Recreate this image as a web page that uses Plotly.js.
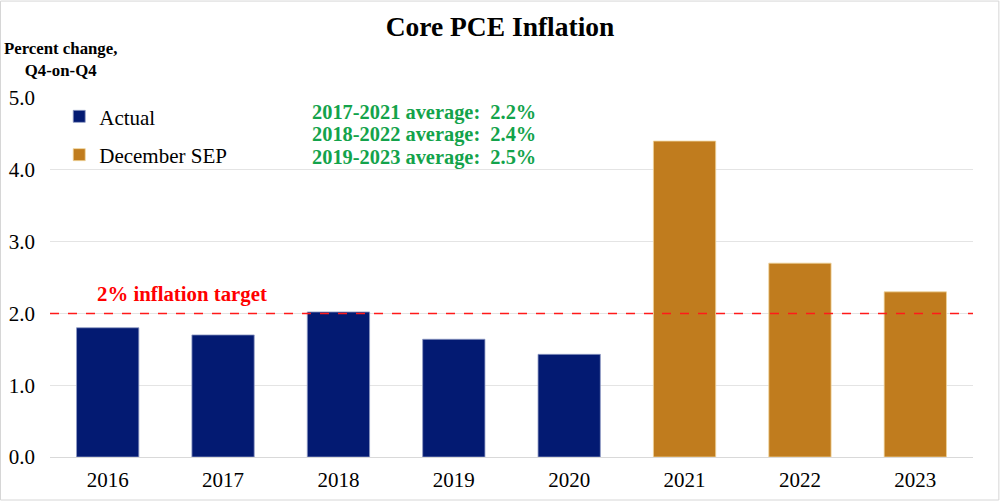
<!DOCTYPE html>
<html><head><meta charset="utf-8">
<script src="https://cdn.plot.ly/plotly-3.0.1.min.js"></script>
<style>html,body{margin:0;padding:0;background:#fff}#chart{width:1000px;height:503px}</style>
</head><body><div id="chart"></div>
<script>
const actualYears = ["2016","2017","2018","2019","2020"];
const actualValues = [1.8, 1.7, 2.02, 1.64, 1.43];
const sepYears = ["2021","2022","2023"];
const sepValues = [4.4, 2.7, 2.3];
const averageLines = ["2017-2021 average:  2.2%", "2018-2022 average:  2.4%", "2019-2023 average:  2.5%"];
const targetValue = 2.0;
const yTicks = [0,1,2,3,4,5];
const yTickText = ["0.0","1.0","2.0","3.0","4.0","5.0"];

const serif = "Liberation Serif, Times New Roman, serif";
const traces = [
  {type:"bar", name:"Actual", x:actualYears, y:actualValues, width:0.54,
   marker:{color:"#031a72", line:{color:"#8f9ac4", width:0.8}}, legendgroup:"a"},
  {type:"bar", name:"December SEP", x:sepYears, y:sepValues, width:0.54,
   marker:{color:"#c07c1e", line:{color:"#f0d49a", width:0.8}}, legendgroup:"b"}
];
const avgY = [0.961, 0.897, 0.833];
const annotations = [
  {xref:"paper", yref:"paper", x:-0.0515, y:1.106, xanchor:"left", yanchor:"middle", align:"center",
   text:"<b>Percent change,<br>Q4-on-Q4</b>", showarrow:false,
   font:{family:serif, size:16.8, color:"#000"}},
  {xref:"paper", yref:"y", x:0.049, y:targetValue, xanchor:"left", yanchor:"bottom", yshift:5,
   text:"<b>2% inflation target</b>", showarrow:false,
   font:{family:serif, size:20.8, color:"#ff0000"}}
];
averageLines.forEach((s,i)=>annotations.push({
  xref:"paper", yref:"paper", x:0.405, y:avgY[i], xanchor:"center", yanchor:"middle",
  text:"<b>"+s+"</b>", showarrow:false, font:{family:serif, size:20.4, color:"#13a34b"}}));

const layout = {
  width:1000, height:503,
  margin:{l:50, r:27, t:98, b:46},
  paper_bgcolor:"#fff", plot_bgcolor:"#fff",
  title:{text:"<b>Core PCE Inflation</b>", x:0.5, xanchor:"center", y:0.948, yanchor:"middle",
         font:{family:serif, size:27.5, color:"#000"}},
  barmode:"overlay",
  showlegend:true,
  legend:{x:0.01, y:1.005, xanchor:"left", yanchor:"top", font:{family:serif, size:21, color:"#000"},
          bgcolor:"rgba(0,0,0,0)", traceorder:"grouped", tracegroupgap:8, itemwidth:30},
  xaxis:{type:"category", tickfont:{family:serif, size:21, color:"#000"}, showgrid:false,
         showline:true, linecolor:"#d9d9d9", linewidth:1, ticks:"", ticklen:0, ticklabelstandoff:4},
  yaxis:{range:[0,5], tickvals:yTicks, ticktext:yTickText, tickfont:{family:serif, size:21, color:"#000"},
         showgrid:true, gridcolor:"#e4e4e4", gridwidth:1, zeroline:false, showline:false, ticks:"",
         ticklabelstandoff:14},
  shapes:[
    {type:"line", xref:"paper", yref:"y", x0:0, x1:1, y0:targetValue, y1:targetValue,
     line:{color:"#ff1a1a", width:1.5, dash:"dash"}, layer:"above"},
    {type:"rect", xref:"paper", yref:"paper", x0:-0.0536, x1:1.028, y0:-0.1198, y1:1.270,
     line:{color:"#d6d6d6", width:1}, layer:"below"}
  ],
  annotations:annotations
};
Plotly.newPlot("chart", traces, layout, {displayModeBar:false, staticPlot:true});
</script></body></html>
